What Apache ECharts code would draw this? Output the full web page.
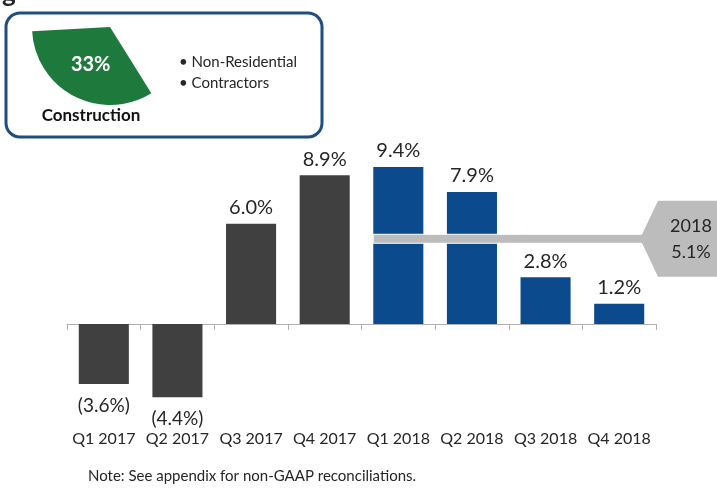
<!DOCTYPE html>
<html>
<head>
<meta charset="utf-8">
<script src="https://cdn.jsdelivr.net/npm/echarts@6/dist/echarts.min.js"></script>
<style>
	html, body { margin: 0; padding: 0; background: #fff; }
	#chart { width: 717px; height: 492px; }
</style>
</head>
<body>
<div id="chart"></div>
<script>
	const categories = ['Q1 2017', 'Q2 2017', 'Q3 2017', 'Q4 2017', 'Q1 2018', 'Q2 2018', 'Q3 2018', 'Q4 2018']
	const growth = [-3.6, -4.4, 6.0, 8.9, 9.4, 7.9, 2.8, 1.2]
	const years = ['2017', '2017', '2017', '2017', '2018', '2018', '2018', '2018']
	const yearAvg = 5.1
	const sharePie = [
		{ name: 'Construction', value: 33 },
		{ name: 'Other', value: 67 }
	]
	const bullets = ['• Non-Residential', '• Contractors']

	const grayColor = '#404040'
	const blueColor = '#0b4a8c'
	const bandColor = '#bcbcbc'
	const textColor = '#262626'
	const font = 'Lato'

	const fmt = (v) => (v < 0 ? '(' + Math.abs(v).toFixed(1) + '%)' : v.toFixed(1) + '%')

	const chart = echarts.init(document.getElementById('chart'))
	const option = {
		animation: false,
		textStyle: { fontFamily: font },
		grid: { left: 67, right: 61, top: 157, bottom: 68 },
		xAxis: [
			{
				type: 'category',
				data: categories,
				axisLine: { onZero: true, lineStyle: { color: '#b0b0b0', width: 1 } },
				axisTick: { show: true, length: 6, lineStyle: { color: '#b0b0b0' } },
				axisLabel: { show: false }
			},
			{
				type: 'category',
				data: categories,
				position: 'bottom',
				axisLine: { show: false, onZero: false },
				axisTick: { show: false },
				axisLabel: { interval: 0, margin: 7, fontSize: 16, color: textColor, fontFamily: font }
			}
		],
		yAxis: { type: 'value', min: -6, max: 10, show: false },
		series: [
			{
				type: 'bar',
				barWidth: '68%',
				z: 2,
				data: growth.map((v, i) => ({
					value: v,
					itemStyle: { color: years[i] === '2018' ? blueColor : grayColor },
					label: {
						show: true,
						position: v < 0 ? 'bottom' : 'top',
						distance: v < 0 ? 12 : 6,
						formatter: fmt(v),
						fontSize: v < 0 ? 19 : 20,
						color: textColor,
						fontFamily: font
					}
				}))
			},
			{
				type: 'pie',
				center: [110, 27],
				radius: 78,
				startAngle: 302,
				clockwise: true,
				silent: true,
				z: 5,
				label: {
					position: 'inside',
					formatter: '{c}%',
					color: '#fff',
					fontSize: 20,
					fontWeight: 'bold',
					fontFamily: font
				},
				labelLine: { show: false },
				data: [
					{ ...sharePie[0], itemStyle: { color: '#1e7a3c' } },
					{ ...sharePie[1], itemStyle: { color: 'rgba(0,0,0,0)' }, label: { show: false } }
				]
			}
		]
	}
	chart.setOption(option)

	// 2018 average band + tag, placed from the chart's own scale
	const first2018 = years.indexOf('2018')
	const pCenter = chart.convertToPixel({ gridIndex: 0 }, [first2018, yearAvg])
	const pNext = chart.convertToPixel({ gridIndex: 0 }, [first2018 + 1, yearAvg])
	const halfBar = (pNext[0] - pCenter[0]) * 0.34
	const bandY = pCenter[1]
	const bandX = pCenter[0] - halfBar
	const tipX = 640

	chart.setOption({
		graphic: [
			{
				type: 'text',
				left: 2,
				top: -19,
				style: { text: 'g', fontSize: 26, fontWeight: 'bold', fill: textColor, fontFamily: font }
			},
			{
				type: 'rect',
				shape: { x: 6, y: 13, width: 316, height: 124, r: 14 },
				style: { fill: 'none', stroke: '#1c4f80', lineWidth: 3 },
				z: 10
			},
			{
				type: 'text',
				x: 91,
				y: 116,
				style: {
					text: sharePie[0].name,
					fontSize: 17,
					fontWeight: 'bold',
					fill: '#111',
					fontFamily: font,
					align: 'center',
					verticalAlign: 'middle'
				},
				z: 10
			},
			{
				type: 'text',
				x: 179,
				y: 73,
				style: {
					text: bullets.join('\n'),
					fontSize: 15,
					lineHeight: 21,
					fill: textColor,
					fontFamily: font,
					verticalAlign: 'middle'
				},
				z: 10
			},
			{
				type: 'text',
				x: 88,
				y: 476,
				style: {
					text: 'Note: See appendix for non-GAAP reconciliations.',
					fontSize: 15,
					fill: textColor,
					fontFamily: font,
					verticalAlign: 'middle'
				}
			},
			{
				type: 'rect',
				shape: { x: bandX, y: bandY - 4.5, width: tipX - bandX + 10, height: 9 },
				style: { fill: bandColor, stroke: '#fff', lineWidth: 1 },
				z: 20
			},
			{
				type: 'polygon',
				shape: {
					points: [
						[tipX, bandY],
						[tipX + 18, bandY - 38],
						[720, bandY - 38],
						[720, bandY + 38],
						[tipX + 18, bandY + 38]
					]
				},
				style: { fill: bandColor },
				z: 21
			},
			{
				type: 'text',
				x: 691,
				y: bandY,
				style: {
					text: '2018\n' + yearAvg.toFixed(1) + '%',
					fontSize: 18,
					lineHeight: 26,
					fill: textColor,
					fontFamily: font,
					align: 'center',
					verticalAlign: 'middle'
				},
				z: 22
			}
		]
	})
</script>
</body>
</html>
